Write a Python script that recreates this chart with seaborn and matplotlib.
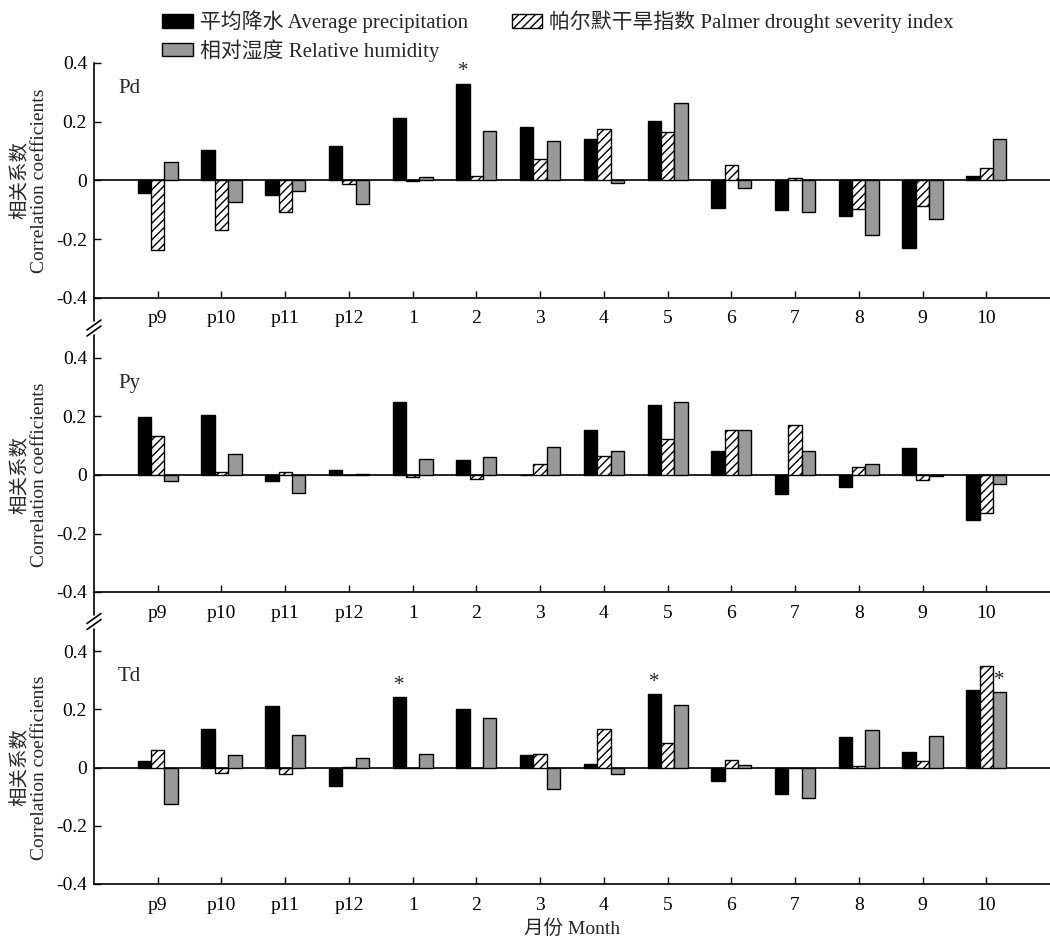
import matplotlib
matplotlib.use("Agg")
import matplotlib.pyplot as plt
from matplotlib.lines import Line2D
from matplotlib.patches import Patch
import seaborn as sns
import numpy as np
import pandas as pd

sns.set_style("ticks")
plt.rcParams['font.family'] = ['Liberation Serif', 'Noto Sans CJK SC']
plt.rcParams['hatch.linewidth'] = 1.0

# months and correlation values
months = ['p9', 'p10', 'p11', 'p12', '1', '2', '3', '4', '5', '6', '7', '8', '9', '10']

pd_prec = [-0.043, 0.105, -0.051, 0.118, 0.214, 0.330, 0.183, 0.141, 0.201, -0.094, -0.100, -0.122, -0.230, 0.017]
pd_pdsi = [-0.237, -0.170, -0.106, -0.011, -0.002, 0.016, 0.072, 0.177, 0.164, 0.054, 0.009, -0.098, -0.087, 0.042]
pd_rh = [0.063, -0.074, -0.035, -0.080, 0.013, 0.170, 0.135, -0.008, 0.263, -0.025, -0.106, -0.186, -0.130, 0.141]

py_prec = [0.197, 0.206, -0.019, 0.016, 0.250, 0.051, 0.001, 0.155, 0.240, 0.081, -0.065, -0.041, 0.094, -0.155]
py_pdsi = [0.134, 0.010, 0.009, 0.000, -0.007, -0.014, 0.037, 0.065, 0.123, 0.154, 0.170, 0.026, -0.018, -0.130]
py_rh = [-0.022, 0.073, -0.062, 0.003, 0.056, 0.063, 0.095, 0.083, 0.249, 0.154, 0.083, 0.038, -0.002, -0.031]

td_prec = [0.021, 0.131, 0.210, -0.062, 0.241, 0.200, 0.042, 0.011, 0.252, -0.045, -0.091, 0.104, 0.052, 0.265]
td_pdsi = [0.059, -0.020, -0.022, 0.002, 0.000, -0.001, 0.048, 0.133, 0.085, 0.026, 0.000, 0.005, 0.023, 0.349]
td_rh = [-0.125, 0.043, 0.113, 0.033, 0.046, 0.170, -0.074, -0.022, 0.215, 0.010, -0.104, 0.130, 0.109, 0.259]

series_names = ['平均降水 Average precipitation', '帕尔默干旱指数 Palmer drought severity index', '相对湿度 Relative humidity']
panels = [('Pd', pd_prec, pd_pdsi, pd_rh), ('Py', py_prec, py_pdsi, py_rh), ('Td', td_prec, td_pdsi, td_rh)]
# significant bars: (panel, month, series index)
stars = [('Pd', '2', 0), ('Td', '1', 0), ('Td', '5', 0), ('Td', '10', 2)]

colors = ['black', 'white', '#999999']
bar_w = 0.21

fig = plt.figure(figsize=(10.5, 9.42), dpi=100)
# axes boxes in figure fraction (left, bottom, width, height)
boxes = [(94/1050, 1-298/942, 956/1050, 235/942),
         (94/1050, 1-592/942, 956/1050, 234/942),
         (94/1050, 1-884/942, 956/1050, 233/942)]

for (name, prec, pdsi, rh), box in zip(panels, boxes):
    ax = fig.add_axes(box)
    df = pd.DataFrame({'month': months * 3,
                       'series': [series_names[0]] * 14 + [series_names[1]] * 14 + [series_names[2]] * 14,
                       'value': prec + pdsi + rh})
    sns.barplot(data=df, x='month', y='value', hue='series', hue_order=series_names,
                order=months, palette=colors, width=3 * bar_w, edgecolor='black',
                linewidth=1.0, legend=False, ax=ax)
    for bar in ax.containers[1]:
        bar.set_hatch('////')
    ax.axhline(0, color='black', lw=1.2, zorder=0.5)
    ax.set_xlim(-1, 14)
    ax.set_ylim(-0.4, 0.4)
    ax.set_yticks([-0.4, -0.2, 0, 0.2, 0.4])
    ax.set_yticklabels(['-0.4', '-0.2', '0', '0.2', '0.4'])
    ax.tick_params(direction='in', length=5, width=1, labelsize=14, colors='black')
    ax.tick_params(axis='x', pad=9)
    ax.tick_params(axis='y', pad=5)
    for s in ['top', 'right']:
        ax.spines[s].set_visible(False)
    for s in ['left', 'bottom']:
        ax.spines[s].set_linewidth(1.2)
        ax.spines[s].set_color('black')
    ax.set_xlabel('')
    ax.set_ylabel('相关系数\nCorrelation coefficients', fontsize=14, labelpad=6, linespacing=1.1)
    ax.text(0.025, 0.93, name, transform=ax.transAxes, fontsize=15, va='top', ha='left')
    vals = [prec, pdsi, rh]
    for pname, m, k in stars:
        if pname == name:
            i = months.index(m)
            ax.text(i + (k - 1) * bar_w, vals[k][i] + 0.008, '*', ha='center', va='bottom', fontsize=15)
    if name == 'Td':
        ax.set_xlabel('月份 Month', fontsize=14, labelpad=4)

# axis break marks between panels
for y_top, y_bot in [(298, 358), (592, 651)]:
    mid = (y_top + y_bot) / 2
    fig.add_artist(Line2D([94/1050, 94/1050], [1 - y_top/942, 1 - (mid - 7)/942], color='black', lw=1.2))
    fig.add_artist(Line2D([94/1050, 94/1050], [1 - (mid + 7)/942, 1 - y_bot/942], color='black', lw=1.2))
    for dy in (-3, 3):
        fig.add_artist(Line2D([87/1050, 101/1050], [1 - (mid + dy + 5)/942, 1 - (mid + dy - 5)/942],
                              color='black', lw=1.2))

handles = [Patch(facecolor='black', edgecolor='black', label=series_names[0]),
           Patch(facecolor='#999999', edgecolor='black', label=series_names[2]),
           Patch(facecolor='white', edgecolor='black', hatch='////', label=series_names[1])]
fig.legend(handles=handles, loc='upper left', bbox_to_anchor=(152/1050, 1.0), ncol=2, frameon=False,
           fontsize=15, handlelength=1.45, handleheight=0.6, handletextpad=0.35, columnspacing=2.1,
           labelspacing=0.3, borderaxespad=0.1)

fig.savefig('out.png', dpi=100)
